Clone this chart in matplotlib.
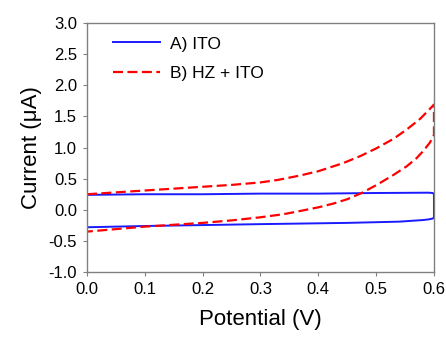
import matplotlib
matplotlib.use("Agg")
import matplotlib.pyplot as plt

plt.rcParams['font.family'] = ['Liberation Sans', 'DejaVu Sans']

# Series A) ITO : closed CV loop (forward upper branch, then return lower branch)
ito_potential = [0.0, 0.1, 0.2, 0.3, 0.4, 0.5, 0.59, 0.598, 0.6, 0.6, 0.598, 0.59, 0.58, 0.54, 0.45, 0.3, 0.2, 0.1, 0.0]
ito_current = [0.24, 0.25, 0.25, 0.26, 0.26, 0.27, 0.275, 0.27, 0.25, -0.12, -0.14, -0.155, -0.165, -0.19, -0.21, -0.23, -0.245, -0.26, -0.28]

# Series B) HZ + ITO
hz_potential = [0.0, 0.05, 0.1, 0.15, 0.2, 0.25, 0.3, 0.33, 0.368, 0.40, 0.42, 0.443, 0.472, 0.501, 0.530, 0.553,
                0.576, 0.596, 0.6, 0.6, 0.6, 0.593, 0.582, 0.570, 0.553, 0.530, 0.501, 0.475,
                0.45, 0.426, 0.40, 0.368, 0.34, 0.3, 0.25, 0.2, 0.15, 0.1, 0.05, 0.0]
hz_current = [0.25, 0.28, 0.31, 0.34, 0.37, 0.40, 0.44, 0.48, 0.55, 0.62, 0.68, 0.75, 0.86, 0.99, 1.14, 1.29,
              1.46, 1.65, 1.69, 1.45, 1.20, 1.08, 0.95, 0.83, 0.70, 0.56, 0.40, 0.27,
              0.17, 0.10, 0.04, -0.02, -0.07, -0.12, -0.17, -0.21, -0.24, -0.27, -0.31, -0.35]

xticks = [0.0, 0.1, 0.2, 0.3, 0.4, 0.5, 0.6]
yticks = [-1.0, -0.5, 0.0, 0.5, 1.0, 1.5, 2.0, 2.5, 3.0]

fig = plt.figure(figsize=(4.46, 3.38), dpi=100)
ax = fig.add_axes([0.195, 0.195, 0.778, 0.737])

ax.plot(ito_potential, ito_current, color='#1a1aff', lw=1.4, label='A) ITO')
ax.plot(hz_potential, hz_current, color='#ff0000', lw=1.6, dashes=(4.5, 2), label='B) HZ + ITO')

ax.set_xlim(0.0, 0.6)
ax.set_ylim(-1.0, 3.0)
ax.set_xticks(xticks)
ax.set_yticks(yticks)
ax.set_xticklabels([f"{v:.1f}" for v in xticks])
ax.set_yticklabels([f"{v:.1f}" for v in yticks])
ax.tick_params(direction='out', length=3, width=0.8, color='#808080', labelsize=12, pad=4)

for s in ax.spines.values():
    s.set_color('#808080')
    s.set_linewidth(1.0)

ax.set_xlabel('Potential (V)', fontsize=16, labelpad=9)
ax.set_ylabel('Current (\u03bcA)', fontsize=16, labelpad=5)

ax.legend(loc='upper left', frameon=False, fontsize=12.5, handlelength=2.7,
          handletextpad=0.6, borderaxespad=0.3, labelspacing=0.85,
          bbox_to_anchor=(0.04, 0.995))

fig.savefig('out.png', dpi=100)
